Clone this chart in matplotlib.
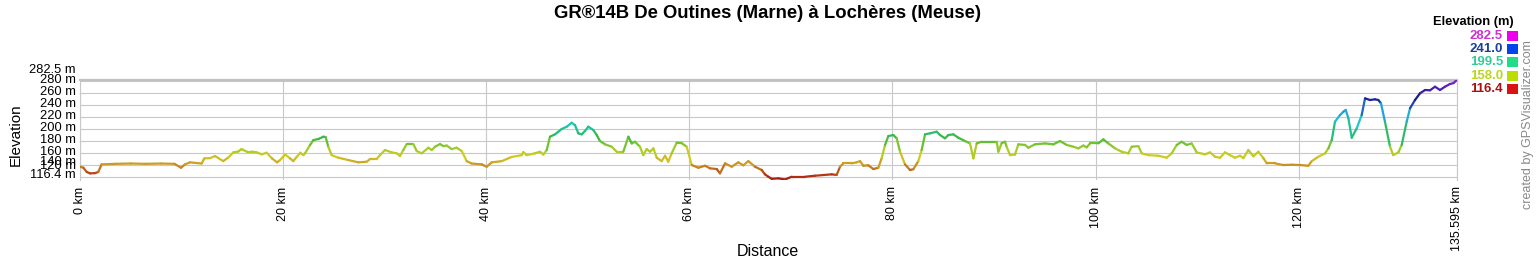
import numpy as np
import matplotlib
matplotlib.use("Agg")
import matplotlib.pyplot as plt
from matplotlib.collections import LineCollection
from matplotlib.colors import LinearSegmentedColormap, Normalize
from matplotlib.patches import Rectangle

# ---------------- data ----------------
title = "GR®14B De Outines (Marne) à Lochères (Meuse)"

distance_km = [
    0.00, 0.33, 0.66, 0.98, 1.48, 1.80, 2.13, 3.50, 5.00, 6.50, 8.00, 9.30, 9.95,
    10.34, 10.83, 11.98, 12.24, 12.80, 13.30, 14.10, 14.60, 15.10, 15.59, 15.90,
    16.41, 16.90, 17.40, 17.90, 18.38, 18.90, 19.40, 19.69, 20.20, 20.68, 21.00,
    21.34, 21.70, 21.99,
    22.16, 22.65, 22.98, 23.47, 23.96, 24.19, 24.45, 24.78, 25.44, 26.42, 27.41,
    28.23, 28.56, 29.21, 29.54, 30.03, 30.69, 31.19, 31.51, 31.84, 32.17, 32.82,
    33.16, 33.65, 34.30, 34.63, 34.96, 35.45, 35.78, 36.11, 36.60, 37.09, 37.59,
    38.08, 38.57, 39.56, 40.05, 40.54, 41.53, 42.51, 43.50, 43.65, 43.98, 44.80,
    45.30, 45.62, 45.96, 46.28, 46.77, 47.10, 47.43, 47.93, 48.42, 48.74, 49.07,
    49.40, 49.73, 50.05, 50.55, 50.88, 51.20, 51.70, 52.36, 52.85, 53.50, 54.00,
    54.33, 54.65, 55.14, 55.47, 55.80, 56.13, 56.46, 56.79, 57.28, 57.61, 57.93,
    58.26, 58.76, 59.25, 59.74, 60.24, 60.89, 61.55, 62.04, 62.70, 63.02, 63.52,
    64.17, 64.83, 65.32, 65.81, 66.47, 67.13, 67.45, 67.78, 68.11,
    68.77, 69.42, 70.08, 71.39, 72.38, 74.02, 74.51, 74.84, 75.17, 75.99, 76.48,
    76.81, 77.14, 77.63, 78.12, 78.61, 78.94, 79.27, 79.60, 80.09, 80.42, 80.75,
    81.24, 81.73, 82.06, 82.55, 82.88, 83.21, 83.70, 84.36, 84.69, 85.18, 85.51,
    86.00, 86.49, 87.15, 87.64, 87.97, 88.30, 88.79, 89.78, 90.27, 90.43, 90.76,
    91.09,
    91.25, 91.58, 92.07, 92.40, 93.06, 93.38, 94.04, 95.03, 95.85, 96.50, 97.16,
    97.82, 98.31, 98.80, 99.13, 99.46, 100.28, 100.77, 101.26, 101.92, 102.58,
    103.23, 103.56, 104.22, 104.55, 105.20, 106.19, 107.01, 107.50, 107.99,
    108.48, 108.98, 109.47, 109.96, 110.78, 111.27, 111.77, 112.26, 112.75,
    113.24, 113.74,
    114.23, 114.56, 115.05, 115.54, 116.03, 116.53, 116.86, 117.68, 118.49,
    119.32, 120.14, 120.96, 121.29, 121.94, 122.60, 122.93, 123.26, 123.58,
    124.08, 124.41, 124.64, 124.90, 125.23, 125.72, 126.21, 126.54, 127.03,
    127.52, 127.85, 128.11, 128.50, 129.00, 129.32, 129.82, 130.15, 130.64,
    130.97, 131.46, 131.95, 132.45, 132.94, 133.43, 133.92, 134.41, 134.90,
    135.25, 135.595,
]

elevation_m = [
    137.7, 136.0, 129.0, 126.6, 127.0, 129.0, 141.6, 142.5, 143.0, 142.5, 143.0, 142.5, 136.0,
    141.6, 145.0, 143.0, 151.6, 152.0, 155.5, 147.0, 153.0, 161.6, 163.0, 167.0,
    163.0, 163.0, 161.6, 158.3, 161.0, 151.6, 145.0, 148.6, 158.0, 151.6, 147.0,
    154.0, 161.0, 157.0,
    160.0, 173.8, 182.0, 183.8, 187.7, 187.0, 171.0, 157.0, 152.7, 148.8, 145.0,
    146.0, 150.5, 150.5, 157.0, 165.5, 161.6, 160.0, 155.5, 165.5, 175.5, 175.5,
    163.8, 160.0, 169.4, 165.5, 171.0, 175.5, 172.0, 173.0, 167.0, 169.4, 163.8,
    147.0, 143.0, 141.6, 137.7, 145.0, 147.0, 154.0, 157.0, 162.0, 157.0, 160.0,
    162.7, 158.0, 165.5, 187.7, 191.6, 196.0, 200.5, 204.4, 211.0, 207.0, 193.3,
    191.6, 197.2, 204.4, 198.8, 190.5, 180.5, 175.0, 171.0, 162.7, 162.7, 187.7,
    176.5, 179.3, 171.0, 157.0, 167.0, 162.7, 168.3, 152.7, 147.0, 156.0, 146.0,
    160.0, 177.7, 177.0, 171.0, 140.5, 136.0, 139.3, 135.0, 133.8, 126.6, 143.3,
    137.7, 145.0, 140.0, 147.0, 137.7, 132.2, 125.0, 121.0, 117.5,
    118.3, 116.4, 121.0, 121.0, 122.7, 125.0, 124.0, 137.7, 143.3, 143.3, 145.0,
    147.0, 139.3, 140.0, 133.8, 136.0, 151.6, 173.8, 188.8, 190.5, 185.0, 162.7,
    141.6, 132.2, 133.5, 147.0, 165.5, 191.6, 193.3, 196.0, 190.5, 185.0, 190.5,
    191.6, 186.0, 180.5, 176.5, 151.6, 176.5, 179.3, 179.3, 179.3, 162.7, 177.0,
    179.3,
    171.0, 157.0, 158.0, 175.0, 174.0, 169.4, 175.0, 176.5, 175.0, 180.5, 174.0,
    171.0, 168.3, 173.0, 170.0, 176.5, 176.5, 183.3, 176.5, 168.3, 162.7,
    160.0, 171.0, 172.0, 160.0, 157.0, 156.0, 152.7, 160.0, 173.8,
    179.3, 174.0, 176.5, 161.6, 158.3, 161.6, 154.3, 152.7, 161.6,
    157.0, 152.7,
    156.0, 152.0, 165.5, 155.0, 162.7, 152.0, 143.3, 143.3, 140.5,
    141.0, 140.5, 139.3, 147.0, 154.3, 160.0, 168.3, 182.0, 212.7,
    223.8, 229.4, 232.2, 218.3, 186.0, 201.6, 223.8, 251.6, 248.8,
    250.0, 248.8, 243.3, 212.7, 171.0, 157.0, 161.6, 173.8, 212.7,
    235.0, 248.8, 260.0, 265.5, 265.0, 271.0, 265.5, 271.0, 275.5,
    277.0, 282.5,
]

x_tick_values = [0, 20, 40, 60, 80, 100, 120, 135.595]
x_tick_labels = ["0 km", "20 km", "40 km", "60 km", "80 km", "100 km", "120 km", "135.595 km"]
y_grid_values = [120, 140, 160, 180, 200, 220, 240, 260, 280]
y_tick_values = [116.4, 120, 140, 160, 180, 200, 220, 240, 260, 280, 282.5]
y_tick_labels = ["116.4 m", "120 m", "140 m", "160 m", "180 m", "200 m",
                 "220 m", "240 m", "260 m", "280 m", "282.5 m"]
legend_values = ["282.5", "241.0", "199.5", "158.0", "116.4"]

# ---------------- styling ----------------
plt.rcParams['font.family'] = ['Liberation Sans', 'DejaVu Sans']

W_PX, H_PX = 1537, 260
fig = plt.figure(figsize=(W_PX / 100, H_PX / 100), dpi=100)

def fx(px):
    return px / W_PX

def fy(py):
    return 1 - py / H_PX

left, right, top, bottom = 80, 1457, 79.8, 179.5
ax = fig.add_axes([fx(left), fy(bottom), fx(right - left), (bottom - top) / H_PX])

ymin, ymax = min(elevation_m), max(elevation_m)
ax.set_xlim(0, distance_km[-1])
ax.set_ylim(ymin, ymax)

# elevation colour ramp (red -> yellow -> green -> cyan -> navy -> violet)
ramp_stops = [(116.4, '#aa1a10'), (128, '#b84a18'), (142, '#cc9a22'), (155, '#d0cc22'),
              (168, '#a0cc28'), (185, '#3cb83c'), (200, '#20c090'), (212, '#20c8c8'),
              (230, '#20a0d8'), (245, '#1a30a0'), (255, '#1a1a90'), (270, '#5020b0'),
              (282.5, '#8020d0')]
cmap = LinearSegmentedColormap.from_list(
    'elev', [((e - 116.4) / (282.5 - 116.4), c) for e, c in ramp_stops])
norm = Normalize(ymin, ymax)

pts = np.column_stack([distance_km, elevation_m])
segs = np.stack([pts[:-1], pts[1:]], axis=1)
elev = np.asarray(elevation_m)
mid = (elev[:-1] + elev[1:]) / 2
lc = LineCollection(segs, colors=cmap(norm(mid)), linewidths=1.6,
                    capstyle='round', joinstyle='round', zorder=3)
ax.add_collection(lc)

# grid
ax.set_xticks(x_tick_values, labels=x_tick_labels, rotation=90, fontsize=9)
ax.tick_params(axis='x', length=0, pad=5)
ax.set_yticks(y_grid_values, labels=[])
ax.tick_params(axis='y', length=0)
ax.grid(True, color='#c8c8c8', linewidth=0.8, zorder=0)
ax.spines['bottom'].set_visible(False)
ax.spines['top'].set_color('#c0c0c0')
ax.spines['top'].set_linewidth(1.6)
for side in ['left', 'right']:
    ax.spines[side].set_color('#c8c8c8')
    ax.spines[side].set_linewidth(0.8)

# y tick labels (shifted like the original to avoid collisions)
shift_px = {116.4: 4.5, 120: 11, 140: 3, 282.5: 10}
for v, lab in zip(y_tick_values, y_tick_labels):
    dy = shift_px.get(v, 1) * 0.72
    ax.annotate(lab, xy=(0, v), xycoords=ax.get_yaxis_transform(),
                xytext=(-3, dy), textcoords='offset points',
                ha='right', va='center', fontsize=9.3, annotation_clip=False)

# axis titles
fig.text(fx(16), fy(135), "Elevation", rotation=90, ha='center', va='center', fontsize=11)
fig.text(fx(768), fy(252), "Distance", ha='center', va='center', fontsize=11.5)
fig.text(fx(767), fy(14), title, ha='center', va='center', fontsize=13.3, weight='bold')

# legend
fig.text(fx(1514), fy(22.5), "Elevation (m)", ha='right', va='center', fontsize=9.3, weight='bold')
text_colors = ['#cc33cc', '#1a3fa0', '#33cc99', '#b8d820', '#aa1111']
box_colors = ['#ee00ee', '#0044ee', '#22dd88', '#bbdd00', '#dd1111']
for i, lab in enumerate(legend_values):
    yc = 36 + 13.2 * i
    fig.text(fx(1503), fy(yc), lab, ha='right', va='center', fontsize=9.5,
             weight='bold', color=text_colors[i])
    fig.patches.append(Rectangle((fx(1507), fy(yc + 5)), 10.5 / W_PX, 10 / H_PX,
                                 transform=fig.transFigure, facecolor=box_colors[i],
                                 edgecolor='none'))

fig.text(fx(1528), fy(125), "created by GPSVisualizer.com", rotation=90,
         ha='center', va='center', fontsize=9, color='#888888')

fig.savefig("out.png", dpi=100)
